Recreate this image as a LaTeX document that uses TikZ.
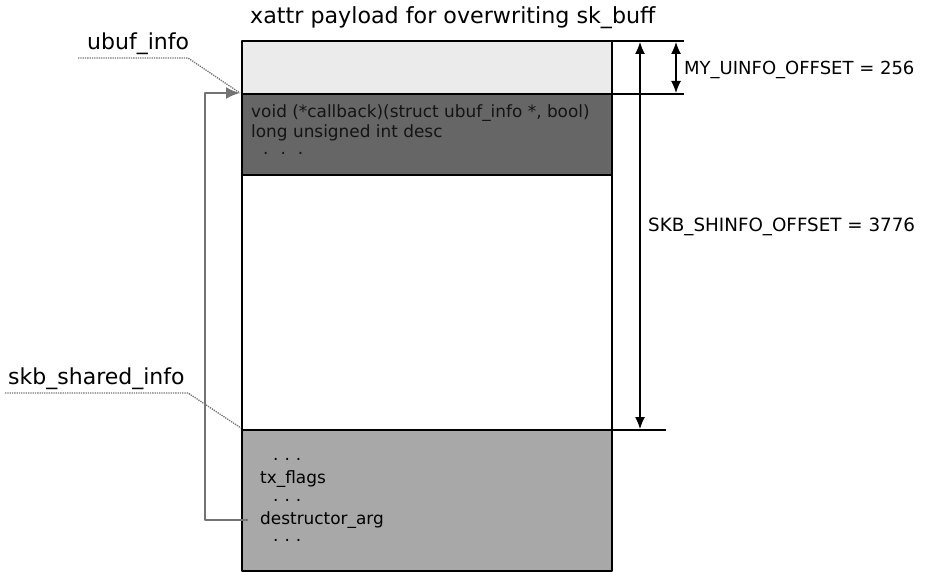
\documentclass[tikz,border=0pt]{standalone}
\usepackage{fontspec}
\setmainfont{DejaVu Sans}
\usetikzlibrary{arrows.meta}

\tikzset{
  boxline/.style={line width=1.8pt, black},
  extline/.style={line width=1.2pt, black},
  dimarrow/.style={line width=1.2pt, black, {Latex[length=12pt,width=10pt]}-{Latex[length=12pt,width=10pt]}},
  leader/.style={black!55, densely dotted, line width=1.3pt},
  ptrline/.style={gray!90!black, line width=2.2pt},
  fieldtext/.style={anchor=west, inner sep=0pt, font=\fontsize{16.9}{19}\selectfont},
  labeltext/.style={anchor=west, inner sep=0pt, font=\fontsize{22}{26}\selectfont},
  offtext/.style={anchor=west, inner sep=0pt, font=\fontsize{18}{21}\selectfont},
}

\begin{document}
\begin{tikzpicture}[x=1pt, y=-1pt, line join=round]

    % canvas in pixel units, y downwards
    \useasboundingbox (0,0) rectangle (925,572);

    % payload corners and section borders
    \coordinate (TL) at (242, 41);
    \coordinate (BR) at (612, 571);
    \coordinate (U1) at (612, 94);    % start of ubuf_info
    \coordinate (U2) at (612, 175);   % end of ubuf_info
    \coordinate (S1) at (612, 430);   % start of skb_shared_info

    % section fills
    \fill[black!8]  (242, 41) rectangle (U1);
    \fill[black!60] (242, 94) rectangle (U2);
    \fill[white]    (242,175) rectangle (S1);
    \fill[black!34] (242,430) rectangle (BR);

    % outline and borders
    \draw[boxline] (TL) rectangle (BR);
    \draw[boxline] (242, 94) -- (U1);
    \draw[boxline] (242,175) -- (U2);
    \draw[boxline] (242,430) -- (S1);

    % title
    \node[anchor=south west, inner sep=0pt, font=\fontsize{22.2}{26}\selectfont] (title) at (250, 29) {xattr payload for overwriting sk\_buff};

    % extension lines for the offsets
    \coordinate (E0) at (684, 41);
    \coordinate (E1) at (684, 94);
    \coordinate (E2) at (666, 430);
    \draw[extline] (612, 41) -- (E0);
    \draw[extline] (U1) -- (E1);
    \draw[extline] (S1) -- (E2);

    % offset arrows
    \coordinate (LA) at (640, 42);
    \coordinate (LB) at (640, 429);
    \coordinate (SA) at (676, 42);
    \coordinate (SB) at (676, 93);
    \draw[dimarrow] (LA) -- (LB);
    \draw[dimarrow] (SA) -- (SB);
    \node[offtext] (myoff)  at (684, 70)  {MY\_UINFO\_OFFSET = 256};
    \node[offtext, font=\fontsize{18.3}{21}\selectfont] (skboff) at (648, 227) {SKB\_SHINFO\_OFFSET = 3776};

    % ubuf_info fields
    \node[fieldtext, text=black!92] (cb)    at (251, 113) {void (*callback)(struct ubuf\_info *, bool)};
    \node[fieldtext, text=black!92] (desc)  at (251, 133) {long unsigned int desc};
    \node[fieldtext, text=black!92] (udots) at (263, 153) {.\hspace{12pt}.\hspace{12pt}.};

    % skb_shared_info fields
    \node[fieldtext] (sdots1) at (273, 459) {.\hspace{6pt}.\hspace{6pt}.};
    \node[fieldtext] (txf)    at (260, 479) {tx\_flags};
    \node[fieldtext] (sdots2) at (273, 500) {.\hspace{6pt}.\hspace{6pt}.};
    \node[fieldtext] (darg)   at (260, 520) {destructor\_arg};
    \node[fieldtext] (sdots3) at (273, 540) {.\hspace{6pt}.\hspace{6pt}.};

    % struct labels with dotted leaders
    \node[labeltext] (ubuf)   at (87, 44)  {ubuf\_info};
    \node[labeltext] (shinfo) at (8, 379)  {skb\_shared\_info};
    \coordinate (ubufIn)   at (240, 93);
    \coordinate (shinfoIn) at (241, 428);
    \draw[leader] (78, 58) -- (188, 58) -- (ubufIn);
    \draw[leader] (5, 393) -- (188, 393) -- (shinfoIn);

    % destructor_arg points back to ubuf_info
    \draw[ptrline, -{Latex[length=14pt,width=12pt]}] (248, 520) -- (205, 520) |- (ubufIn);

\end{tikzpicture}
\end{document}
